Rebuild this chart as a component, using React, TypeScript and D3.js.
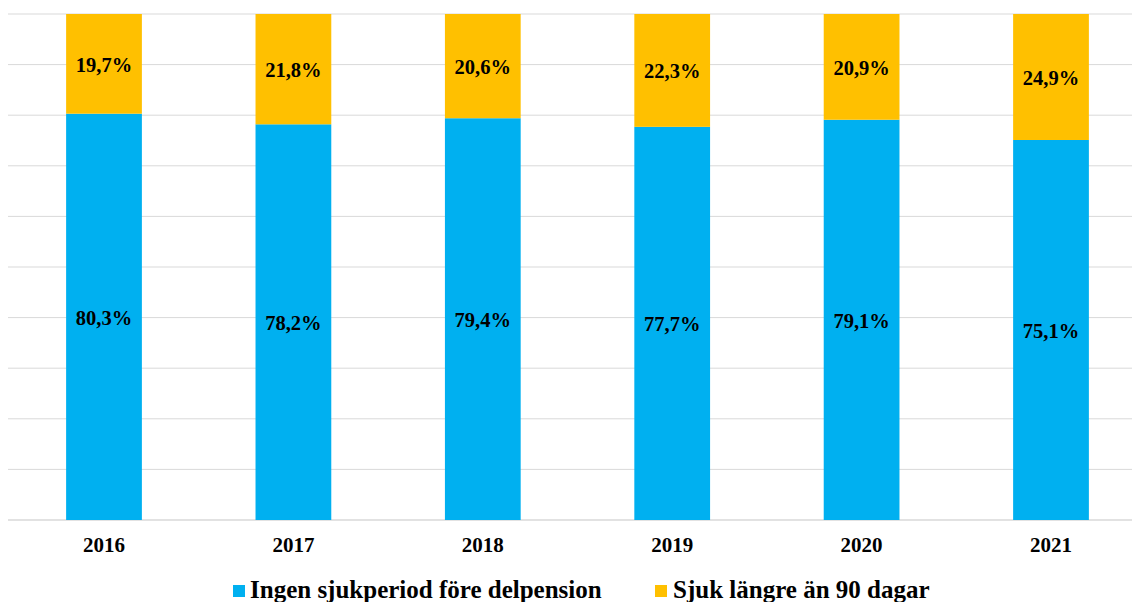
import React from "react";
import * as d3 from "d3";

const years = ["2016", "2017", "2018", "2019", "2020", "2021"];
const ingen = [80.3, 78.2, 79.4, 77.7, 79.1, 75.1];
const sjuk = [19.7, 21.8, 20.6, 22.3, 20.9, 24.9];
const seriesNames = ["Ingen sjukperiod före delpension", "Sjuk längre än 90 dagar"];
const colors = ["#00B0F0", "#FFC000"];
const yTicks = [0, 10, 20, 30, 40, 50, 60, 70, 80, 90, 100];

const W = 1132;
const H = 602;
const FONT = "'Liberation Serif', 'Times New Roman', serif";

function fmt(v: number) {
  return v.toFixed(1).replace(".", ",") + "%";
}

export default function App() {
  const x = d3.scaleBand<string>().domain(years).range([9.3, 1145.7]).paddingInner(0.6).paddingOuter(0.3);
  const y = d3.scaleLinear().domain([0, 100]).range([520, 14]);
  const rows = years.map((yr, i) => ({ year: yr, ingen: ingen[i], sjuk: sjuk[i] }));
  const stack = d3.stack<any>().keys(["ingen", "sjuk"])(rows);

  return (
    <svg width={W} height={H} style={{ position: "absolute", left: 0, top: 0, background: "#fff" }} fontFamily={FONT}>
      <rect x={0} y={0} width={W} height={H} fill="#fff" />
      {yTicks.map((t) => (
        <line key={t} x1={8} x2={W} y1={y(t)} y2={y(t)} stroke="#d9d9d9" strokeWidth={t === 0 ? 1.5 : 1} />
      ))}
      {stack.map((s, si) =>
        s.map((d, i) => (
          <rect
            key={si + "-" + i}
            x={x(years[i])}
            width={x.bandwidth()}
            y={y(d[1])}
            height={y(d[0]) - y(d[1])}
            fill={colors[si]}
          />
        ))
      )}
      {stack.map((s, si) =>
        s.map((d, i) => (
          <text
            key={"l" + si + "-" + i}
            x={(x(years[i]) as number) + x.bandwidth() / 2}
            y={(y(d[0]) + y(d[1])) / 2 + 3}
            textAnchor="middle"
            dominantBaseline="middle"
            fontWeight="bold"
            fontSize={20.5}
            fill="#000"
          >
            {fmt(si === 0 ? ingen[i] : sjuk[i])}
          </text>
        ))
      )}
      {years.map((yr) => (
        <text
          key={yr}
          x={(x(yr) as number) + x.bandwidth() / 2}
          y={552}
          textAnchor="middle"
          fontWeight="bold"
          fontSize={21}
          fill="#000"
        >
          {yr}
        </text>
      ))}
      <g>
        <rect x={233} y={585} width={12} height={12} fill={colors[0]} />
        <text x={250} y={598} fontWeight="bold" fontSize={25} fill="#000">
          {seriesNames[0]}
        </text>
        <rect x={655} y={585} width={12} height={12} fill={colors[1]} />
        <text x={673} y={598} fontWeight="bold" fontSize={25} fill="#000">
          {seriesNames[1]}
        </text>
      </g>
    </svg>
  );
}
